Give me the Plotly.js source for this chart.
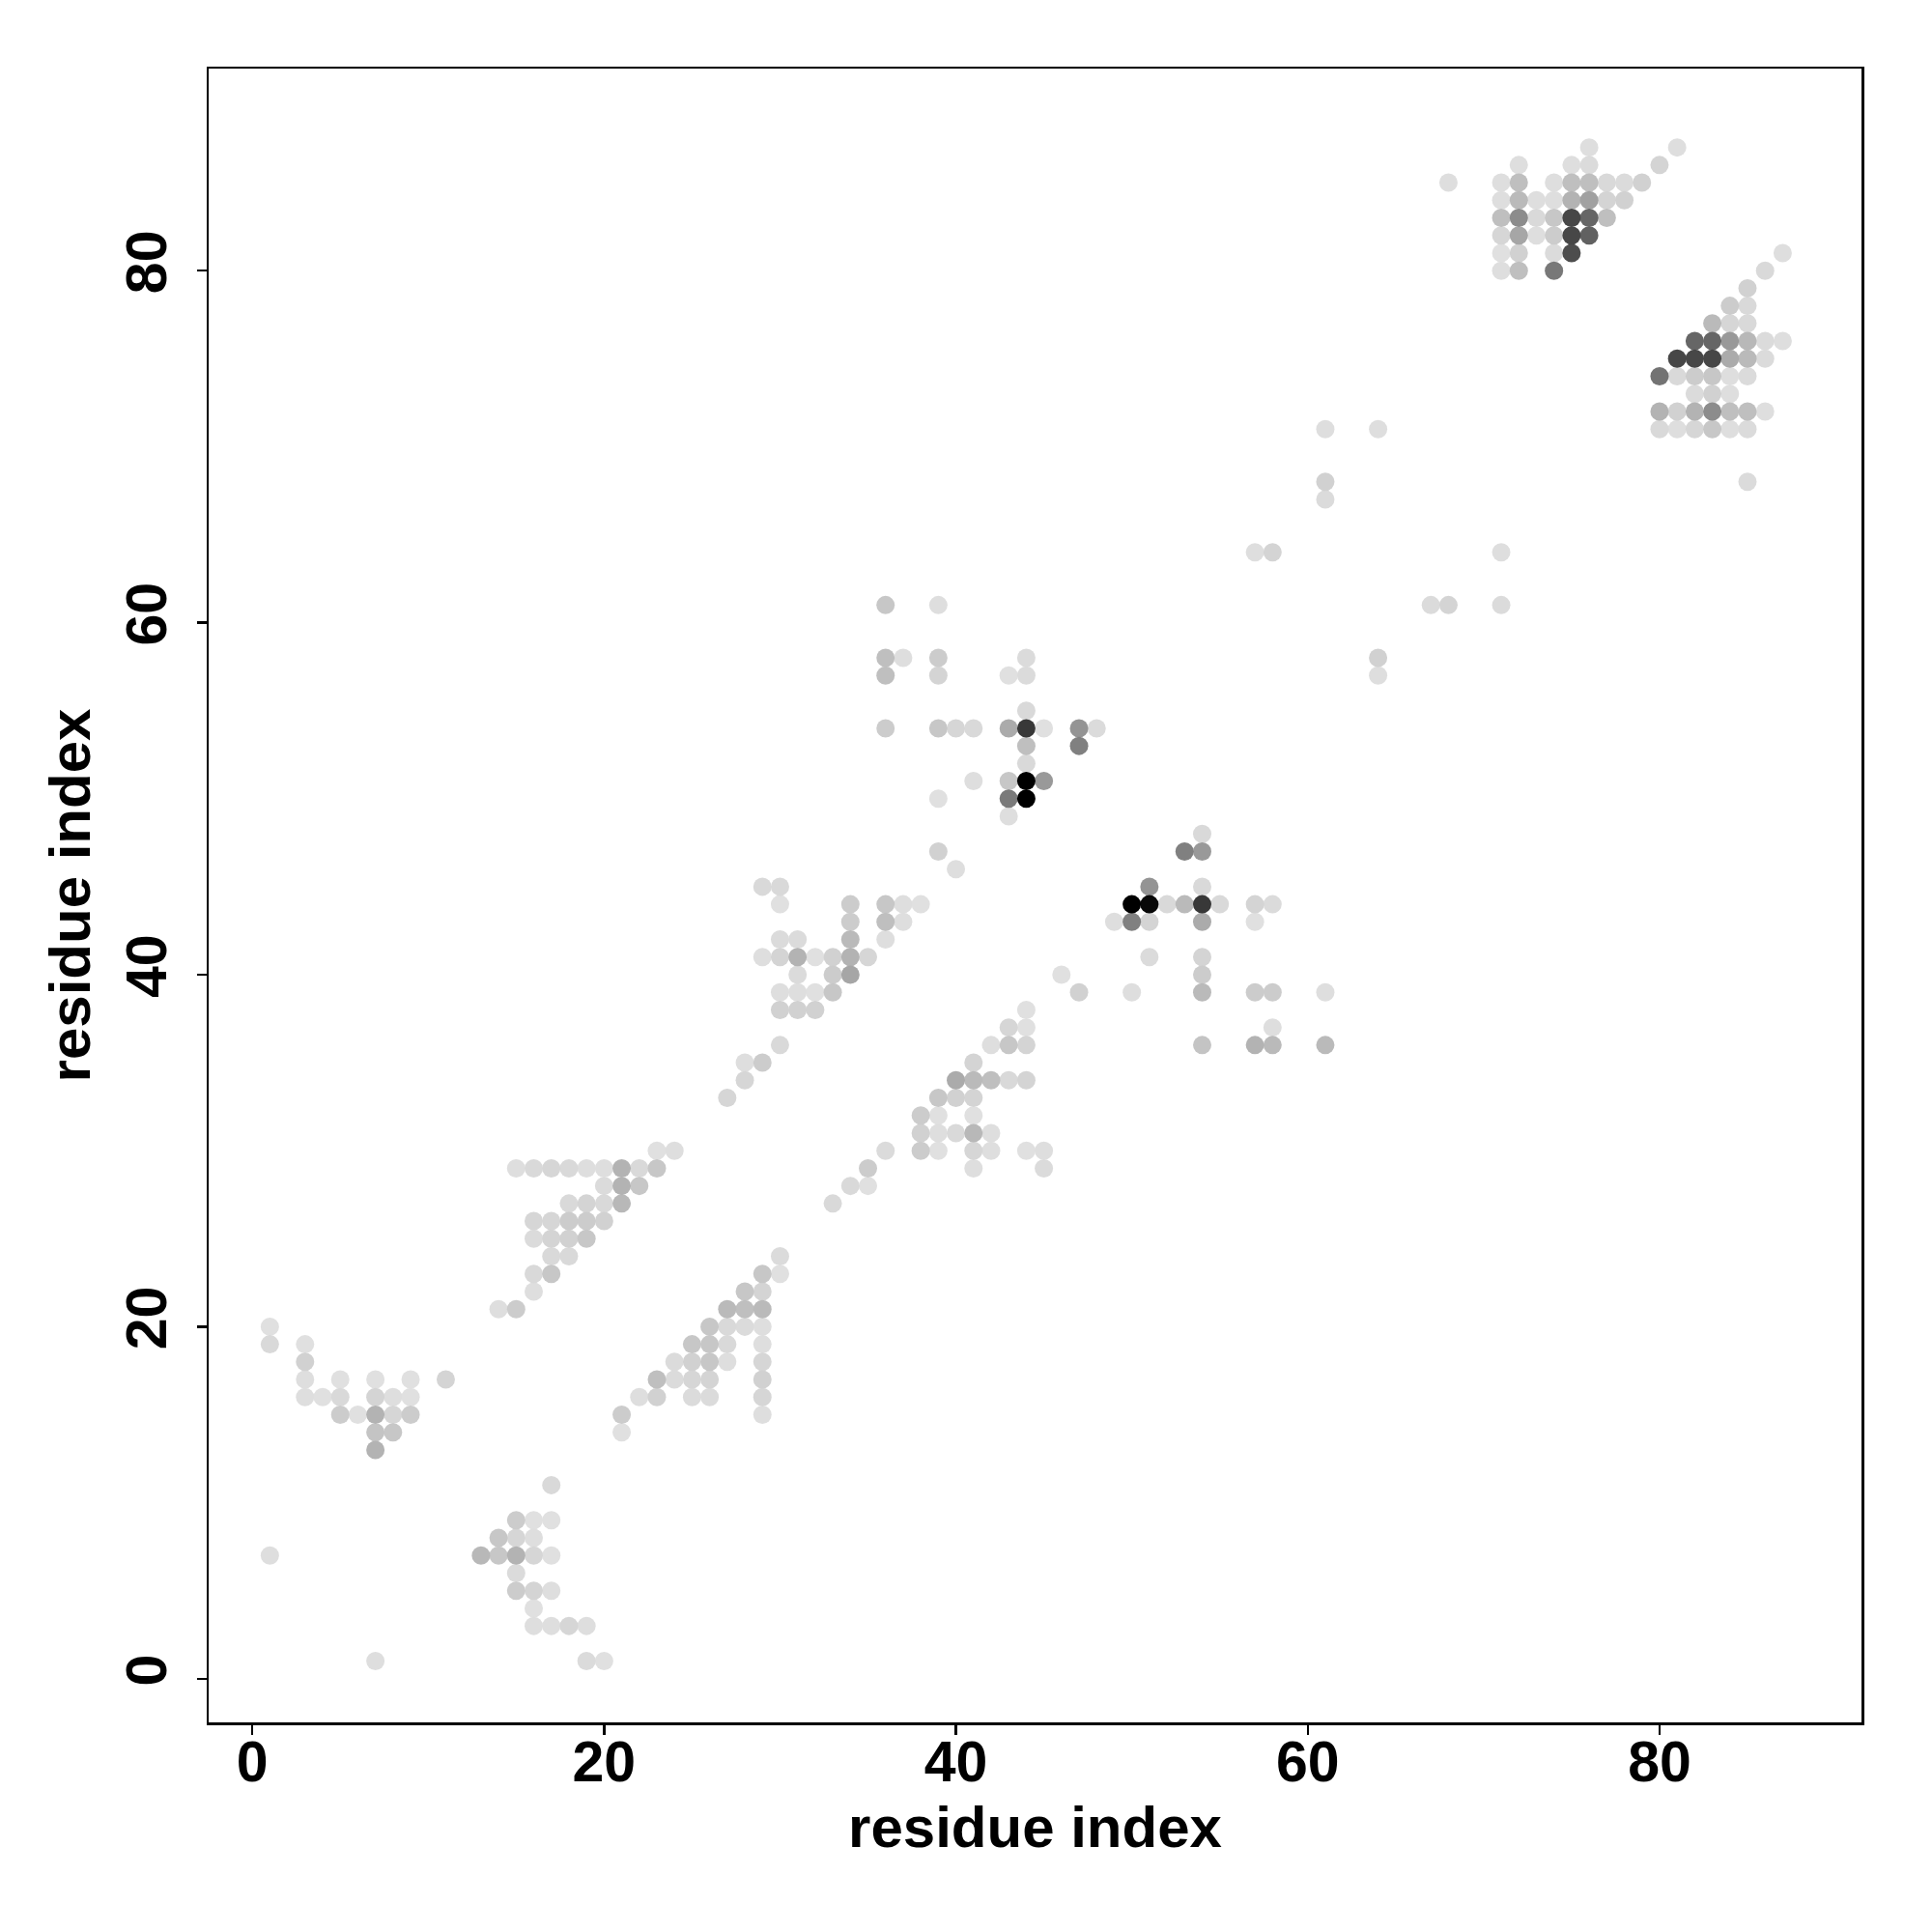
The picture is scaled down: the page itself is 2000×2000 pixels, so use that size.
<!DOCTYPE html>
<html>
<head>
<meta charset="utf-8">
<script src="https://cdn.plot.ly/plotly-3.0.1.min.js"></script>
<style>html,body{margin:0;padding:0;background:#fff;}#chart{width:2000px;height:2000px;}</style>
</head>
<body>
<div id="chart"></div>
<script>
// residue i, residue j, contact strength (0 = white, 1 = black)
const residueX = [
 1,1,3,3,3,3,4,5,5,5,6,7,7,7,7,7,8,8,8,9,9,9,11,
 1,7,
 17,15,16,17,14,15,16,13,14,15,16,17,15,15,16,17,16,16,17,18,19,19,20,
 23,24,15,16,17,18,19,20,21,22,23,20,21,22,18,19,20,21,16,17,18,19,20,16,17,18,19,17,18,16,17,16,14,15,
 30,29,30,28,29,27,28,29,26,27,28,29,25,26,27,29,24,25,26,27,29,23,24,25,26,29,22,23,25,26,29,21,29,21,
 29,30,30,34,36,37,38,34,36,37,30,31,34,36,29,30,31,32,33,34,35,31,33,34,30,31,32,33,30,31,32,30,28,29,28,27,
 44,43,44,42,43,44,41,40,41,42,43,44,39,40,41,38,39,41,38,39,40,41,42,36,38,39,41,42,44,45,35,41,45,34,35,33,
 36,39,36,37,39,44,36,39,43,44,44,36,39,40,41,43,44,45,47,48,44,47,44,41,43,44,45,39,43,44,43,39,40,
 54,53,54,51,54,50,51,52,53,54,55,57,58,49,50,51,54,57,51,54,46,54,47,50,54,57,58,61,58,54,57,58,61,
 61,64,61,61,57,58,71,67,68,71,64,64,
 76,81,72,75,76,80,68,71,72,74,75,76,77,78,79,
 71,72,73,74,75,76,77,78,
 71,72,73,74,75,76,77,
 71,72,73,74,75,76,
 71,72,74,75,
 71,72,74,
 87,86,85,84,85,83,84,85,
 82,83,84,85,86,87,
 81,82,83,84,85,86,
 80,81,82,83,84,85,
 82,83,84,
 80,81,82,83,84,85,86,
 80,81,82,83,84,85,
 85
];
const residueY = [
 20,19,19,18,17,16,16,17,16,15,15,17,16,15,14,13,16,15,14,17,16,15,17,
 7,1,
 11,9,9,9,8,8,8,7,7,7,7,7,6,5,5,5,4,3,3,3,3,1,1,
 30,30,29,29,29,29,29,29,29,29,29,28,28,28,27,27,27,27,26,26,26,26,26,25,25,25,25,24,24,23,23,22,21,21,
 24,23,23,22,22,21,21,21,20,20,20,20,19,19,19,19,18,18,18,18,18,17,17,17,17,17,16,16,16,16,16,15,15,14,
 45,45,44,44,44,44,44,43,43,43,42,42,42,42,41,41,41,41,41,41,41,40,40,40,39,39,39,39,38,38,38,36,35,35,34,33,
 38,37,37,36,36,36,35,34,34,34,34,34,33,33,33,32,32,32,31,31,31,31,31,30,30,30,30,30,30,30,29,29,29,28,28,27,
 61,61,58,58,58,58,57,57,57,57,55,54,54,54,54,54,54,54,54,54,53,53,52,51,51,51,51,50,50,50,49,47,46,
 48,47,47,45,45,44,44,44,44,44,44,44,44,43,43,43,43,43,41,41,40,40,39,39,39,39,39,39,37,36,36,36,36,
 71,71,68,67,64,64,64,61,61,61,58,57,
 87,87,86,86,86,86,85,85,85,85,85,85,85,85,85,
 84,84,84,84,84,84,84,84,
 83,83,83,83,83,83,83,
 82,82,82,82,82,82,
 81,81,81,81,
 80,80,80,
 81,80,79,78,78,77,77,77,
 76,76,76,76,76,76,
 75,75,75,75,75,75,
 74,74,74,74,74,74,
 73,73,73,
 72,72,72,72,72,72,72,
 71,71,71,71,71,71,
 68
];
const contactStrength = [
 .12,.15,.12,.18,.13,.13,.12,.12,.15,.2,.12,.12,.17,.3,.23,.3,.13,.16,.22,.12,.12,.2,.17,
 .13,.13,
 .15,.2,.12,.12,.22,.16,.13,.28,.22,.3,.16,.12,.14,.2,.17,.13,.12,.13,.13,.16,.13,.14,.12,
 .12,.13,.13,.15,.16,.15,.13,.13,.3,.15,.22,.14,.3,.22,.15,.17,.15,.28,.16,.16,.2,.2,.18,.14,.17,.18,.22,.15,.15,.15,.22,.13,.13,.2,
 .14,.22,.12,.22,.17,.27,.25,.27,.22,.15,.14,.13,.22,.22,.15,.13,.14,.18,.22,.13,.16,.25,.14,.16,.17,.18,.13,.18,.14,.14,.16,.2,.13,.12,
 .15,.15,.12,.2,.22,.13,.12,.2,.25,.13,.14,.14,.27,.13,.13,.17,.3,.12,.18,.3,.16,.14,.2,.35,.13,.13,.12,.22,.18,.18,.18,.15,.13,.2,.16,.16,
 .12,.16,.12,.13,.22,.17,.17,.33,.27,.25,.15,.17,.22,.18,.17,.2,.12,.12,.18,.13,.15,.28,.13,.14,.2,.12,.16,.13,.12,.13,.2,.13,.14,.15,.12,.15,
 .22,.13,.25,.13,.2,.14,.25,.17,.12,.14,.15,.2,.22,.16,.15,.33,.78,.12,.42,.14,.25,.5,.15,.13,.22,1.0,.4,.12,.52,1.0,.13,.18,.13,
 .15,.5,.4,.42,.15,1.0,.97,.15,.27,.78,.15,.17,.14,.13,.5,.17,.33,.12,.14,.17,.12,.2,.18,.13,.27,.2,.2,.13,.13,.23,.3,.27,.27,
 .13,.13,.18,.14,.13,.17,.13,.14,.17,.14,.18,.13,
 .13,.13,.13,.13,.14,.17,.13,.13,.25,.13,.25,.25,.15,.14,.18,
 .13,.27,.13,.13,.3,.37,.17,.18,
 .25,.45,.15,.22,.72,.6,.25,
 .16,.35,.13,.2,.72,.62,
 .12,.18,.14,.7,
 .13,.25,.53,
 .13,.15,.18,.2,.15,.27,.16,.15,
 .6,.6,.4,.28,.14,.13,
 .72,.72,.72,.33,.27,.14,
 .55,.15,.2,.22,.13,.14,
 .14,.18,.13,
 .3,.18,.3,.45,.25,.25,.13,
 .15,.13,.16,.22,.13,.14,
 .14
];
const tickValues = [0, 20, 40, 60, 80];
const axisLabel = 'residue index';

// draw darker contacts last
const order = contactStrength.map((v, i) => i).sort((a, b) => contactStrength[a] - contactStrength[b]);

const trace = {
  type: 'scatter',
  mode: 'markers',
  x: order.map(i => residueX[i]),
  y: order.map(i => residueY[i]),
  marker: {
    size: 19,
    color: order.map(i => contactStrength[i]),
    colorscale: [[0, 'rgb(255,255,255)'], [1, 'rgb(0,0,0)']],
    cmin: 0, cmax: 1,
    showscale: false,
    line: {width: 0}
  },
  hoverinfo: 'x+y'
};

const font = {family: 'Liberation Sans, Arial, sans-serif', color: '#000', weight: 'bold'};
const axisCommon = {
  range: [-2.48, 91.48],
  tickvals: tickValues,
  ticktext: tickValues.map(String),
  ticks: 'outside',
  ticklen: 10,
  tickwidth: 2.5,
  tickcolor: '#000',
  showline: true,
  linecolor: '#000',
  linewidth: 2.5,
  mirror: true,
  showgrid: false,
  zeroline: false,
  tickfont: Object.assign({}, font, {size: 59}),
  automargin: false
};

const layout = {
  width: 2000,
  height: 2000,
  paper_bgcolor: '#fff',
  plot_bgcolor: '#fff',
  margin: {l: 216, r: 73, t: 71, b: 217},
  showlegend: false,
  xaxis: Object.assign({}, axisCommon, {
    ticklabelstandoff: -22,
    title: {text: axisLabel, font: Object.assign({}, font, {size: 60}), standoff: 14}
  }),
  yaxis: Object.assign({}, axisCommon, {
    tickangle: -90,
    ticklabelstandoff: 8,
    title: {text: axisLabel, font: Object.assign({}, font, {size: 60}), standoff: 6}
  })
};

Plotly.newPlot('chart', [trace], layout, {displayModeBar: false, staticPlot: true});
</script>
</body>
</html>
